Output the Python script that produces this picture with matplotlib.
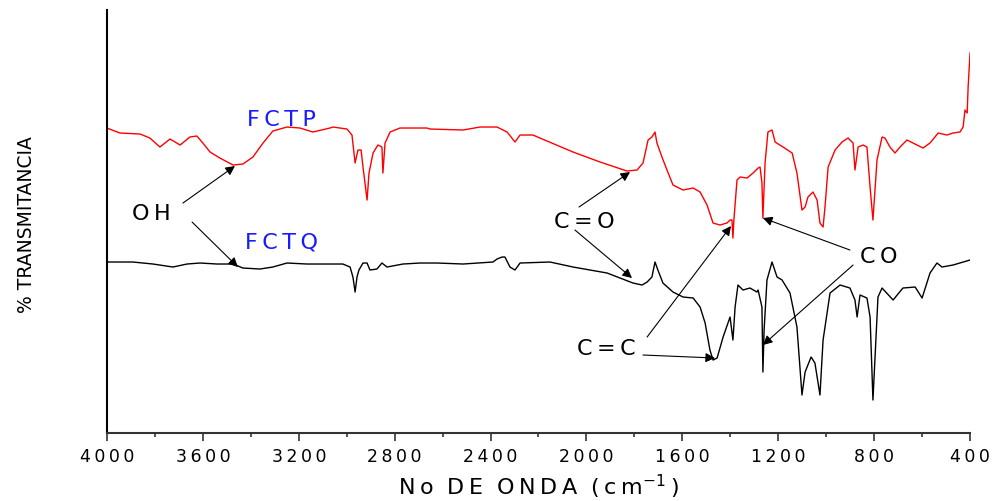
import numpy as np
import matplotlib
matplotlib.use("Agg")
import matplotlib.pyplot as plt

# FTIR spectra (wavenumber cm-1, transmittance a.u.)
fctp_wn = [4000, 3946, 3862, 3821, 3779, 3737, 3695, 3654, 3625, 3600, 3570, 3529,
           3474, 3433, 3391, 3349, 3308, 3249, 3195, 3141, 3070, 3057, 2999, 2978,
           2965, 2953, 2940, 2932, 2915, 2907, 2890, 2870, 2853, 2849, 2840, 2819,
           2778, 2665, 2653, 2515, 2444, 2373, 2331, 2298, 2277, 2223, 2194, 2056,
           1943, 1831, 1789, 1764, 1743, 1727, 1714, 1706, 1685, 1664, 1639, 1597,
           1555, 1526, 1497, 1472, 1443, 1414, 1401, 1393, 1389, 1385, 1372, 1359,
           1330, 1305, 1284, 1276, 1268, 1264, 1255, 1243, 1226, 1213, 1180, 1142,
           1122, 1101, 1088, 1076, 1055, 1038, 1026, 1013, 1005, 992, 963, 934,
           909, 888, 880, 867, 846, 830, 817, 805, 788, 767, 755, 734, 713, 692,
           663, 638, 596, 567, 533, 496, 471, 442, 429, 421, 412, 408, 400]
fctp_t = [305, 300, 299, 295, 286, 294, 288, 296, 297, 290, 281, 275,
          268, 269, 276, 290, 302, 306, 305, 301, 305, 306, 304, 298,
          270, 283, 283, 266, 233, 260, 280, 288, 286, 260, 290, 301,
          305, 305, 304, 303, 306, 306, 301, 291, 298, 298, 295, 281,
          271, 262, 263, 270, 293, 296, 301, 290, 276, 263, 248, 243,
          245, 241, 228, 210, 208, 210, 213, 213, 195, 213, 253, 256,
          255, 260, 265, 266, 250, 215, 270, 301, 303, 291, 286, 280,
          260, 223, 226, 236, 241, 233, 210, 206, 226, 266, 283, 291,
          295, 290, 263, 286, 288, 286, 246, 213, 273, 296, 295, 286, 280, 286,
          293, 290, 285, 290, 300, 298, 300, 301, 306, 323, 320, 346, 380]

fctq_wn = [4000, 3892, 3808, 3725, 3666, 3612, 3541, 3474, 3433, 3362, 3308, 3249,
           3166, 3070, 3016, 2986, 2974, 2965, 2957, 2949, 2932, 2915, 2903, 2874,
           2853, 2832, 2765, 2694, 2623, 2515, 2390, 2373, 2352, 2340, 2319, 2298,
           2277, 2152, 2056, 1914, 1806, 1768, 1747, 1727, 1714, 1702, 1681, 1639,
           1597, 1555, 1526, 1505, 1485, 1472, 1455, 1430, 1401, 1389, 1380, 1368,
           1347, 1318, 1289, 1284, 1268, 1264, 1259, 1247, 1226, 1205, 1184, 1151,
           1122, 1101, 1088, 1063, 1047, 1026, 1013, 984, 942, 901, 880, 871,
           859, 830, 817, 805, 784, 767, 721, 680, 629, 600, 567, 538, 517, 471, 400]
fctq_t = [171, 171, 169, 166, 169, 170, 169, 169, 165, 164, 166, 170,
          169, 169, 169, 166, 156, 141, 156, 163, 170, 170, 163, 164,
          170, 166, 169, 170, 170, 169, 171, 174, 176, 176, 166, 163,
          170, 171, 166, 160, 150, 148, 151, 156, 171, 163, 150, 141,
          136, 135, 126, 110, 83, 73, 75, 96, 116, 93, 126, 148,
          143, 145, 141, 143, 126, 61, 103, 153, 171, 156, 153, 140,
          106, 38, 61, 76, 70, 38, 93, 140, 148, 145, 133, 116,
          138, 135, 116, 33, 136, 145, 133, 145, 146, 135, 160, 170, 166, 168, 173]

xticks = [4000, 3600, 3200, 2800, 2400, 2000, 1600, 1200, 800, 400]
minor_ticks = [3800, 3400, 3000, 2600, 2200, 1800, 1400, 1000, 600]

# labels: (text, wn, t, colour)
labels = [("FCTP", 3274, 313, "#1a1aff"), ("FCTQ", 3274, 191, "#1a1aff"),
          ("OH", 3816, 219, "k"), ("C=O", 2010, 211, "k"),
          ("C=C", 1918, 84, "k"), ("CO", 780, 176, "k")]
# arrows: (start wn, start t, tip wn, tip t)
arrows = [(3683, 230, 3466, 267), (3645, 211, 3454, 166),
          (2031, 226, 1818, 261), (2048, 203, 1810, 155),
          (1747, 96, 1397, 207), (1764, 78, 1464, 75),
          (901, 183, 1264, 215), (888, 168, 1264, 88)]

THIN = "\u2009"


def spaced(s):
    # the original text is drawn wide, so open it up a little
    return THIN.join(s)


plt.rcParams["font.family"] = ["DejaVu Sans"]
fig = plt.figure(figsize=(9.94, 5.01), dpi=100)
ax = fig.add_axes([0.1076, 0.1357, 0.8683, 0.8443])

ax.plot(fctp_wn, fctp_t, color="#ff0000", lw=1.0)
ax.plot(fctq_wn, fctq_t, color="k", lw=1.0)

for txt, x, y, c in labels:
    ax.text(x, y, spaced(txt), color=c, fontsize=16, ha="center", va="center")
for x0, y0, x1, y1 in arrows:
    ax.annotate("", xy=(x1, y1), xytext=(x0, y0),
                arrowprops=dict(arrowstyle="-|>", color="k", lw=0.8,
                                mutation_scale=14, shrinkA=0, shrinkB=0))

ax.set_xlim(4000, 400)
ax.set_ylim(0, 423)
ax.set_yticks([])
ax.set_xticks(xticks)
ax.set_xticklabels([spaced(str(t)) for t in xticks], fontsize=12.5)
ax.set_xticks(minor_ticks, minor=True)
ax.tick_params(axis="x", which="major", length=6, width=1.2, pad=5, color="#333333")
ax.tick_params(axis="x", which="minor", length=3, width=1.2, color="#333333")

ax.spines["top"].set_visible(False)
ax.spines["right"].set_visible(False)
ax.spines["left"].set_linewidth(1.5)
ax.spines["bottom"].set_linewidth(1.5)
ax.spines["bottom"].set_color("#333333")

ax.set_xlabel(spaced("No") + "  " + spaced("DE") + "  " + spaced("ONDA") + "  "
              + spaced("(cm") + "$^{-1}$" + THIN + ")", fontsize=16, labelpad=5)
fig.text(0.027, 0.551, "% TRANSMITANCIA", rotation=90, fontsize=13.5,
         ha="center", va="center")

fig.savefig("out.png", dpi=100)
